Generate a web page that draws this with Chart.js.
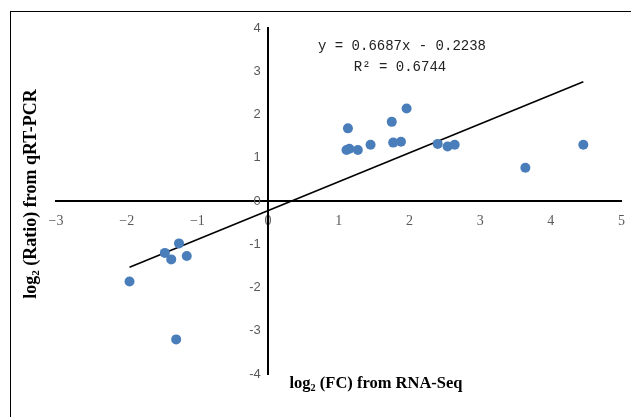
<!DOCTYPE html>
<html>
<head>
<meta charset="utf-8">
<script src="https://cdn.jsdelivr.net/npm/chart.js@4.4.1/dist/chart.umd.min.js"></script>
<style>
  html, body { margin: 0; padding: 0; background: #fff; }
  #wrap { position: relative; width: 631px; height: 417px; overflow: hidden; }
  #frame { position: absolute; left: 10px; top: 11px; width: 640px; height: 440px; border: 1px solid #000; box-sizing: border-box; }
  #chart { position: absolute; left: 0; top: 0; }
</style>
</head>
<body>
<div id="wrap">
  <div id="frame"></div>
  <canvas id="chart" width="637" height="417"></canvas>
</div>
<script>
// log2(FC) from RNA-Seq
const rnaSeqFC = [-1.96, -1.46, -1.37, -1.26, -1.15, -1.30,
  1.13, 1.11, 1.15, 1.27, 1.45, 1.75, 1.77, 1.88, 1.96, 2.40, 2.54, 2.64, 3.64, 4.46];
// log2(Ratio) from qRT-PCR
const qpcrRatio = [-1.86, -1.20, -1.35, -0.98, -1.27, -3.20,
  1.68, 1.18, 1.21, 1.18, 1.30, 1.83, 1.35, 1.37, 2.14, 1.32, 1.26, 1.30, 0.77, 1.30];

const xTicks = [-3, -2, -1, 0, 1, 2, 3, 4, 5];
const yTicks = [-4, -3, -2, -1, 0, 1, 2, 3, 4];

// 线性趋势线
const slope = 0.6687;
const intercept = -0.2238;
const rSquared = 0.6744;

const points = rnaSeqFC.map((x, i) => ({ x: x, y: qpcrRatio[i] }));
const xMin = Math.min(...rnaSeqFC);
const xMax = Math.max(...rnaSeqFC);
const trend = [xMin, xMax].map(x => ({ x: x, y: slope * x + intercept }));

// 轴标题（带下标）
function drawRich(ctx, parts, size) {
  let w = 0;
  parts.forEach(p => {
    ctx.font = 'bold ' + (p.sub ? size * 0.62 : size) + 'px "Liberation Serif"';
    p.w = ctx.measureText(p.t).width;
    w += p.w;
  });
  let x = -w / 2;
  parts.forEach(p => {
    ctx.font = 'bold ' + (p.sub ? size * 0.62 : size) + 'px "Liberation Serif"';
    ctx.fillText(p.t, x, p.sub ? size * 0.28 : 0);
    x += p.w;
  });
}

const labelsPlugin = {
  id: 'labels',
  afterDraw(chart) {
    const ctx = chart.ctx;
    ctx.save();
    ctx.fillStyle = '#000';
    ctx.textAlign = 'left';
    ctx.textBaseline = 'middle';

    ctx.save();
    ctx.translate(376, 384);
    drawRich(ctx, [{ t: 'log' }, { t: '2', sub: true }, { t: ' (FC) from RNA-Seq' }], 16.5);
    ctx.restore();

    ctx.save();
    ctx.translate(31, 194);
    ctx.rotate(-Math.PI / 2);
    drawRich(ctx, [{ t: 'log' }, { t: '2', sub: true }, { t: ' (Ratio) from qRT-PCR' }], 18);
    ctx.restore();

    ctx.font = '14px "Liberation Mono"';
    ctx.fillStyle = '#222';
    ctx.textAlign = 'center';
    ctx.fillText('y = ' + slope.toFixed(4) + 'x - ' + Math.abs(intercept).toFixed(4), 402, 46);
    ctx.fillText('R\u00B2 = ' + rSquared.toFixed(4), 400, 67);
    ctx.restore();
  }
};

new Chart(document.getElementById('chart').getContext('2d'), {
  type: 'scatter',
  data: {
    datasets: [
      {
        label: 'data',
        data: points,
        backgroundColor: '#4A7EBB',
        borderWidth: 0,
        pointRadius: 5,
        pointHoverRadius: 5
      },
      {
        type: 'line',
        label: 'trend',
        data: trend,
        borderColor: '#000',
        borderWidth: 1.6,
        pointRadius: 0,
        fill: false
      }
    ]
  },
  options: {
    responsive: false,
    animation: false,
    layout: { padding: { left: 56, right: 3, top: 28, bottom: 43 } },
    plugins: { legend: { display: false }, tooltip: { enabled: false } },
    scales: {
      x: {
        type: 'linear',
        min: xTicks[0],
        max: xTicks[xTicks.length - 1],
        position: { y: 0 },
        grid: { display: false, drawTicks: false },
        border: { display: true, color: '#000', width: 2 },
        afterBuildTicks: axis => { axis.ticks = xTicks.map(v => ({ value: v })); },
        ticks: {
          padding: 12,
          color: '#595959',
          font: { family: '"Liberation Serif"', size: 14 },
          callback: v => String(v).replace('-', '\u2212')
        }
      },
      y: {
        type: 'linear',
        min: yTicks[0],
        max: yTicks[yTicks.length - 1],
        position: { x: 0 },
        grid: { display: false, drawTicks: false },
        border: { display: true, color: '#000', width: 2 },
        afterBuildTicks: axis => { axis.ticks = yTicks.map(v => ({ value: v })); },
        ticks: {
          color: '#595959',
          font: { family: '"Liberation Sans"', size: 13 },
          // 标签在轴线左侧留一点空隙
          callback: v => v + '  '
        }
      }
    }
  },
  plugins: [labelsPlugin]
});
</script>
</body>
</html>
